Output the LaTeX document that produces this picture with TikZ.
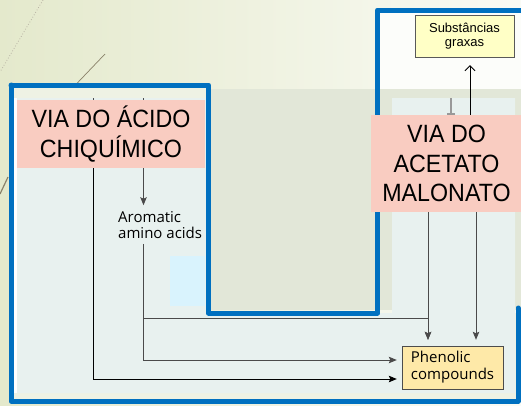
\documentclass[tikz,border=0pt]{standalone}
\usepackage{fontspec}
\setmainfont{Liberation Sans}
\newfontfamily\viafont[FakeStretch=0.93]{Liberation Sans}
\newfontfamily\labfont{Open Sans}
\usetikzlibrary{arrows.meta,positioning,backgrounds}
\definecolor{slideBlue}{HTML}{0070C0}
\definecolor{viaPink}{HTML}{F9CCC1}
\definecolor{panelColor}{HTML}{E8F1EF}
\definecolor{bandColor}{HTML}{E2E7D8}
\definecolor{innerPale}{HTML}{EEF2E4}
\definecolor{bgLeft}{HTML}{E4E9CC}
\definecolor{bgRight}{HTML}{FAFBF5}
\definecolor{graxaColor}{HTML}{FFFFC6}
\definecolor{fenolColor}{HTML}{FEE9A8}
\definecolor{lineGray}{HTML}{4A4A4A}
\definecolor{decoColor}{HTML}{8A826A}
\tikzset{
	outline/.style={draw=slideBlue, line width=5pt, line cap=round, line join=round},
	via/.style={fill=viaPink, align=center, inner sep=0,
		font=\viafont\fontsize{25}{29.5}\selectfont},
	prodbox/.style={draw=black!70, align=left, inner sep=0,
		font=\labfont\fontsize{15}{17}\selectfont},
	lab/.style={align=left, inner sep=0, font=\labfont\fontsize{15}{16}\selectfont},
	flow/.style={draw=lineGray, line width=0.9pt}
}

\begin{document}
\begin{tikzpicture}[x=1pt, y=-1pt, >={Stealth[length=8pt,width=6.5pt,inset=1.5pt]}]
	\useasboundingbox (0,0) rectangle (521,405);
	
	\node[via, minimum width=188pt, minimum height=68pt] (shik) at (111,134) {VIA DO ÁCIDO\\CHIQUÍMICO};
	\node[via, minimum width=151pt, minimum height=97pt] (acet) at (446.5,163.5) {VIA DO\\ACETATO\\MALONATO};
	\node[draw=black!65, fill=graxaColor, align=center, minimum width=99pt, minimum height=42pt,
		font=\fontsize{13}{14.5}\selectfont] (grax) at (464.5,36) {Substâncias\\graxas};
	\node[prodbox, fill=fenolColor, minimum width=101pt, minimum height=43pt] (fenol) at (452.5,367.5) {Phenolic\\compounds};
	\node[lab, anchor=west] (arom) at (118,225) {Aromatic\\amino acids};
	
	\coordinate (outx) at (93,98);
	\coordinate (aromx) at (143.5,98);
	\coordinate (split) at (143.5,318);
	\coordinate (inLow) at (0,379);
	\coordinate (inHigh) at (0,360);
	\coordinate (dropA) at (428,0);
	\coordinate (dropB) at (476,0);
	\coordinate (upx) at (470,0);
	\coordinate (barx) at (451,98);
	
	% tops hidden by the pink boxes
	\draw[flow, black!70] (outx) -- (outx |- shik.north);
	\draw[flow, black!70] (aromx) -- (aromx |- shik.north);
	\draw[line width=1.6pt, gray!80, -{Bar[width=8pt]}] (barx) -- (barx |- acet.north);
	
	\draw[flow, black, ->, shorten >=5pt] (shik.south -| outx) |- (fenol.west |- inLow);
	\draw[flow, ->, shorten >=6pt] (shik.south -| aromx) -- (arom.north -| aromx);
	\draw[flow, ->, shorten <=5pt, shorten >=5pt] (arom.south -| aromx) |- (fenol.west |- inHigh);
	\draw[flow, ->, shorten >=6pt] (split) -| (fenol.north -| dropA);
	\draw[flow, ->, shorten >=6pt] (acet.south -| dropA) -- (fenol.north -| dropA);
	\draw[flow, ->, shorten >=6pt] (acet.south -| dropB) -- (fenol.north -| dropB);
	\draw[line width=0.9pt, -{Straight Barb[length=5pt,width=10pt]}, shorten >=8pt] (acet.north -| upx) -- (grax.south -| upx);
	
	\begin{scope}[on background layer]
		\shade[left color=bgLeft, right color=bgRight] (0,0) rectangle (521,405);
		\fill[bandColor] (208,89) rectangle (521,310);
		\draw[decoColor!60, line width=0.8pt, dotted] (43,0) -- (0,72);
		\draw[decoColor, line width=0.7pt] (105,54) -- (63,98);
		\draw[decoColor, line width=1.2pt] (8,177) -- (0,194);
		\fill[innerPale] (11,85) rectangle (208,401);
		\fill[innerPale] (11,313) rectangle (521,401);
		\fill[bgRight!50!white] (377,10) rectangle (521,89);
		\fill[white] (13,98) rectangle (17,393);
		\fill[panelColor] (17,98) -| (208,313) -| (392,98) -| (515,393) -| (17,98) -- cycle;
		\fill[cyan!15] (170,256) rectangle (205,306);
		\draw[outline] (11,85) -- (208.5,85) -- (208.5,313) -- (377.5,313) -- (377.5,10) -- (530,10);
		\draw[outline] (518,308) -- (518,401) -- (11,401) -- (11,85);
	\end{scope}
\end{tikzpicture}
\end{document}
